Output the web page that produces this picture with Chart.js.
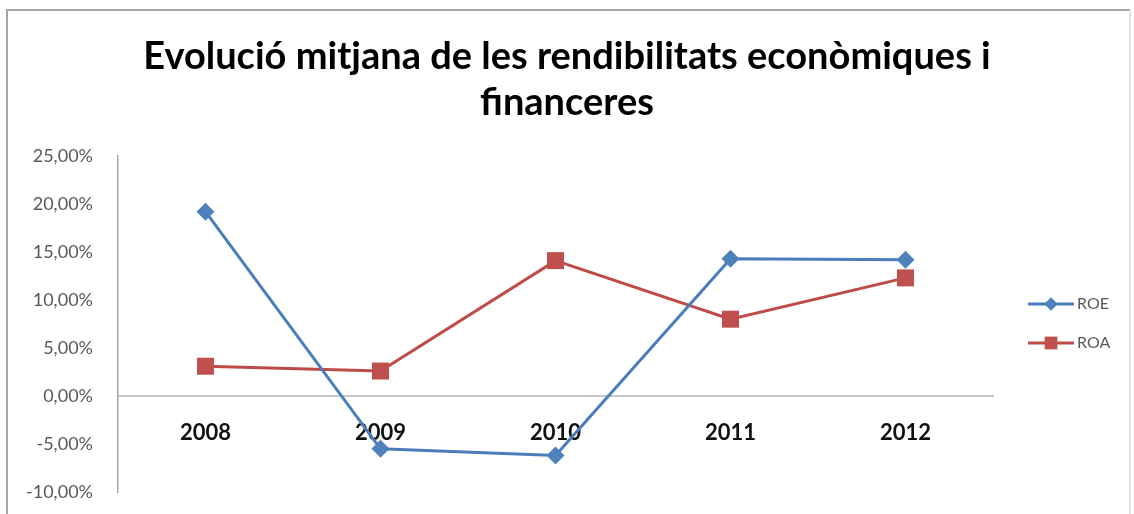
<!DOCTYPE html>
<html>
<head>
<meta charset="utf-8">
<title>Evolució mitjana de les rendibilitats</title>
<script src="https://cdn.jsdelivr.net/npm/chart.js@4"></script>
<style>
    body { margin: 0; background: #ffffff; }
    #wrap { width: 1134px; height: 514px; position: relative; }
</style>
</head>
<body>
<div id="wrap"><canvas id="chart"></canvas></div>
<script>
// dades del gràfic
const years = ['2008', '2009', '2010', '2011', '2012'];
const roe = [19.2, -5.5, -6.2, 14.3, 14.2];
const roa = [3.1, 2.6, 14.1, 8.0, 12.3];
const yTicks = [-10, -5, 0, 5, 10, 15, 20, 25];
const titleLines = ['Evolució mitjana de les rendibilitats econòmiques i', 'financeres'];

const blue = '#4A7EBB';
const red = '#BE4B48';

// marc gris al voltant del gràfic
const framePlugin = {
    id: 'frame',
    beforeDraw(chart) {
        const ctx = chart.ctx;
        ctx.save();
        ctx.fillStyle = '#ffffff';
        ctx.fillRect(0, 0, chart.width, chart.height);
        ctx.strokeStyle = '#a6a6a6';
        ctx.lineWidth = 2;
        ctx.beginPath();
        ctx.moveTo(7, chart.height + 5);
        ctx.lineTo(7, 10);
        ctx.lineTo(chart.width - 4, 10);
        ctx.stroke();
        ctx.strokeStyle = '#e2e2e2';
        ctx.beginPath();
        ctx.moveTo(chart.width - 4, 10);
        ctx.lineTo(chart.width - 4, chart.height + 5);
        ctx.stroke();
        ctx.restore();
    }
};

// llegenda a la dreta: línia + marcador + text
const legendPlugin = {
    id: 'sideLegend',
    afterDraw(chart) {
        const ctx = chart.ctx;
        const area = chart.chartArea;
        const midY = (area.top + area.bottom) / 2;
        ctx.save();
        chart.data.datasets.forEach((ds, i) => {
            const y = midY - 20 + i * 39;
            const x0 = area.right + 35;
            const x1 = area.right + 81;
            ctx.strokeStyle = ds.borderColor;
            ctx.lineWidth = 3;
            ctx.beginPath();
            ctx.moveTo(x0, y);
            ctx.lineTo(x1, y);
            ctx.stroke();
            ctx.fillStyle = ds.pointBackgroundColor;
            Chart.helpers.drawPoint(ctx, {
                pointStyle: ds.pointStyle,
                radius: ds.pointRadius * 0.75,
                rotation: 0,
                borderWidth: 0
            }, (x0 + x1) / 2, y);
            ctx.fillStyle = '#595959';
            ctx.font = '16px Lato';
            ctx.textBaseline = 'middle';
            ctx.fillText(ds.label, x1 + 3, y);
        });
        ctx.restore();
    }
};

new Chart(document.getElementById('chart'), {
    type: 'line',
    data: {
        labels: years,
        datasets: [
            {
                label: 'ROE',
                data: roe,
                borderColor: blue,
                backgroundColor: '#4F81BD',
                pointBackgroundColor: '#4F81BD',
                pointBorderColor: '#4F81BD',
                pointStyle: 'rectRot',
                pointRadius: 9,
                pointBorderWidth: 0,
                borderWidth: 3,
                tension: 0
            },
            {
                label: 'ROA',
                data: roa,
                borderColor: red,
                backgroundColor: '#C0504D',
                pointBackgroundColor: '#C0504D',
                pointBorderColor: '#C0504D',
                pointStyle: 'rect',
                pointRadius: 12,
                pointBorderWidth: 0,
                borderWidth: 3,
                tension: 0
            }
        ]
    },
    options: {
        responsive: true,
        maintainAspectRatio: false,
        animation: false,
        layout: {
            padding: { left: 0, right: 0, top: 0, bottom: 22 }
        },
        plugins: {
            legend: { display: false },
            tooltip: { enabled: false },
            title: {
                display: true,
                text: titleLines,
                color: '#000000',
                font: { family: 'Lato', size: 38, weight: 'bold', lineHeight: 1.21 },
                padding: { top: 34, bottom: 30 }
            }
        },
        scales: {
            x: {
                offset: true,
                position: { y: 0 },
                grid: { drawOnChartArea: false, drawTicks: false },
                border: { display: true, color: '#c8c8c8', width: 2 },
                ticks: {
                    padding: 24,
                    color: '#111111',
                    font: { family: 'Lato', size: 22, weight: 'bold' }
                }
            },
            y: {
                min: yTicks[0],
                max: yTicks[yTicks.length - 1],
                afterBuildTicks(scale) {
                    scale.ticks = yTicks.map(v => ({ value: v }));
                },
                afterFit(scale) {
                    // amplada fixa, i sense reservar espai extra a dalt i a baix
                    scale.width = 118;
                    scale.paddingTop = 0;
                    scale.paddingBottom = 0;
                },
                grid: { drawOnChartArea: false, drawTicks: false },
                border: { display: true, color: '#a8a8a8', width: 1.5 },
                ticks: {
                    padding: 25,
                    color: '#595959',
                    font: { family: 'Lato', size: 18 },
                    callback: v => v.toFixed(2).replace('.', ',') + '%'
                }
            },
            // eix buit a la dreta: reserva l'espai de la llegenda
            legendSpace: {
                axis: 'y',
                position: 'right',
                min: yTicks[0],
                max: yTicks[yTicks.length - 1],
                afterFit(scale) {
                    scale.width = 141;
                },
                grid: { display: false, drawTicks: false },
                border: { display: false },
                ticks: { display: false }
            }
        }
    },
    plugins: [framePlugin, legendPlugin]
});
</script>
</body>
</html>
